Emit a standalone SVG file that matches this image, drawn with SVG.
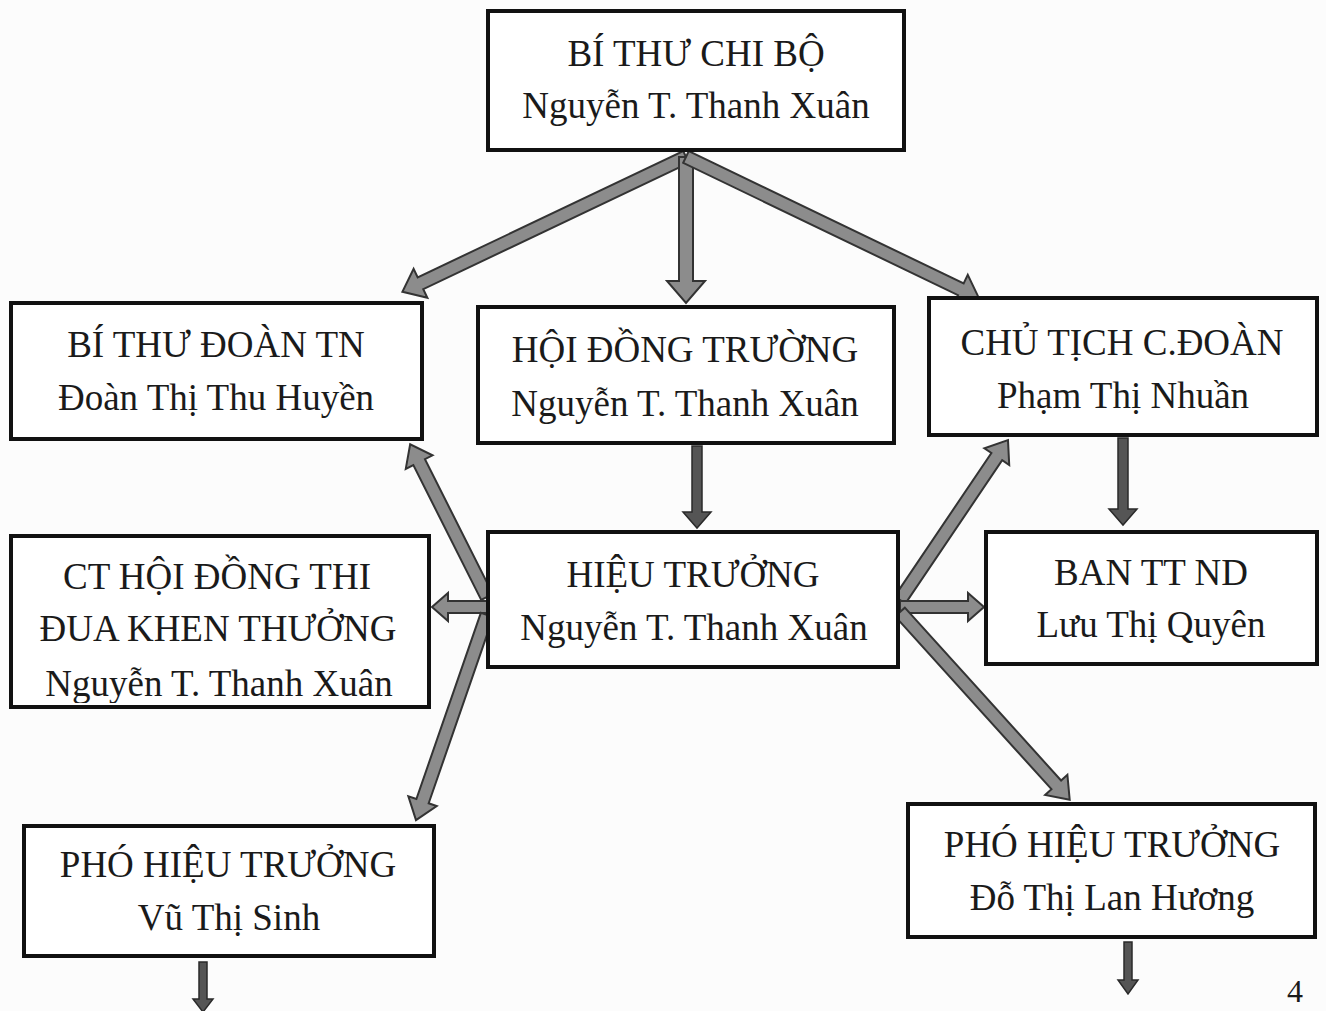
<svg xmlns="http://www.w3.org/2000/svg" width="1326" height="1011" viewBox="0 0 1326 1011">
<style>
.box{fill:#fff;stroke:#111;stroke-width:4}
.t{font-family:"Liberation Serif","Times New Roman",serif;font-size:37px;fill:#1a1a1a;text-anchor:middle}
.arr{fill:#8c8c8c;stroke:#333;stroke-width:2;stroke-linejoin:miter}
.arrd{fill:#555;stroke:#2a2a2a;stroke-width:1.5}
</style>
<defs>
<clipPath id="clip5"><rect x="12" y="537" width="416" height="166"/></clipPath>
</defs>
<rect width="1326" height="1011" fill="#fcfcfc"/>

<g id="connectors">
  <!-- from BÍ THƯ CHI BỘ -->
  <g transform="translate(686,157) rotate(154.57)"><polygon class="arr" points="0,-6.5 294,-6.5 294,-16 314,0 294,16 294,6.5 0,6.5"/></g>
  <g transform="translate(686,157) rotate(90)"><polygon class="arr" points="0,-7 124,-7 124,-19 146,0 124,19 124,7 0,7"/></g>
  <g transform="translate(686,157) rotate(25.7)"><polygon class="arr" points="0,-6.5 305,-6.5 305,-16 325,0 305,16 305,6.5 0,6.5"/></g>
  <!-- vertical -->
  <g transform="translate(697,446) rotate(90)"><polygon class="arrd" points="0,-5 66,-5 66,-14 82,0 66,14 66,5 0,5"/></g>
  <g transform="translate(1123,438) rotate(90)"><polygon class="arrd" points="0,-5 71,-5 71,-14 87,0 71,14 71,5 0,5"/></g>
  <!-- from HIỆU TRƯỞNG left -->
  <g transform="translate(487,597) rotate(-116.7)"><polygon class="arr" points="0,-6.5 151,-6.5 151,-15 171,0 151,15 151,6.5 0,6.5"/></g>
  <g transform="translate(487,607) rotate(180)"><polygon class="arr" points="0,-6 39,-6 39,-14 55,0 39,14 39,6 0,6"/></g>
  <g transform="translate(487,615) rotate(109.1)"><polygon class="arr" points="0,-6.5 197,-6.5 197,-15 217,0 197,15 197,6.5 0,6.5"/></g>
  <!-- from HIỆU TRƯỞNG right -->
  <g transform="translate(900,600) rotate(-55.98)"><polygon class="arr" points="0,-6.5 173,-6.5 173,-15 193,0 173,15 173,6.5 0,6.5"/></g>
  <g transform="translate(900,607)"><polygon class="arr" points="0,-6 68,-6 68,-14 84,0 68,14 68,6 0,6"/></g>
  <g transform="translate(900,612) rotate(47.88)"><polygon class="arr" points="0,-6.5 233,-6.5 233,-15 253,0 233,15 233,6.5 0,6.5"/></g>
  <!-- bottom -->
  <g transform="translate(203,962) rotate(90)"><polygon class="arrd" points="0,-4 37,-4 37,-10 50,0 37,10 37,4 0,4"/></g>
  <g transform="translate(1128,942) rotate(90)"><polygon class="arrd" points="0,-4 38,-4 38,-10 52,0 38,10 38,4 0,4"/></g>
</g>

<g id="n-bithu-chibo">
  <rect class="box" x="488" y="11" width="416" height="139"/>
  <text class="t" x="696" y="66">BÍ THƯ CHI BỘ</text>
  <text class="t" x="696" y="118">Nguyễn T. Thanh Xuân</text>
</g>
<g id="n-bithu-doan">
  <rect class="box" x="11" y="303" width="411" height="136"/>
  <text class="t" x="216" y="357">BÍ THƯ ĐOÀN TN</text>
  <text class="t" x="216" y="410">Đoàn Thị Thu Huyền</text>
</g>
<g id="n-hoidong">
  <rect class="box" x="478" y="307" width="416" height="136"/>
  <text class="t" x="685" y="362">HỘI ĐỒNG TRƯỜNG</text>
  <text class="t" x="685" y="416">Nguyễn T. Thanh Xuân</text>
</g>
<g id="n-congdoan">
  <rect class="box" x="929" y="298" width="388" height="137"/>
  <text class="t" x="1122" y="355">CHỦ TỊCH C.ĐOÀN</text>
  <text class="t" x="1123" y="408">Phạm Thị Nhuần</text>
</g>
<g id="n-thidua">
  <rect class="box" x="11" y="536" width="418" height="171"/>
  <text class="t" x="217" y="589">CT HỘI ĐỒNG THI</text>
  <text class="t" x="218" y="641">ĐUA KHEN THƯỞNG</text>
  <text class="t" x="219" y="696" clip-path="url(#clip5)">Nguyễn T. Thanh Xuân</text>
</g>
<g id="n-hieutruong">
  <rect class="box" x="488" y="532" width="410" height="135"/>
  <text class="t" x="693" y="587">HIỆU TRƯỞNG</text>
  <text class="t" x="694" y="640">Nguyễn T. Thanh Xuân</text>
</g>
<g id="n-bantt">
  <rect class="box" x="986" y="532" width="331" height="132"/>
  <text class="t" x="1151" y="585">BAN TT ND</text>
  <text class="t" x="1151" y="637">Lưu Thị Quyên</text>
</g>
<g id="n-pho1">
  <rect class="box" x="24" y="826" width="410" height="130"/>
  <text class="t" x="228" y="877">PHÓ HIỆU TRƯỞNG</text>
  <text class="t" x="229" y="930">Vũ Thị Sinh</text>
</g>
<g id="n-pho2">
  <rect class="box" x="908" y="804" width="407" height="133"/>
  <text class="t" x="1112" y="857">PHÓ HIỆU TRƯỞNG</text>
  <text class="t" x="1112" y="910">Đỗ Thị Lan Hương</text>
</g>
<text class="t" x="1295" y="1002" style="font-size:32px">4</text>
</svg>
